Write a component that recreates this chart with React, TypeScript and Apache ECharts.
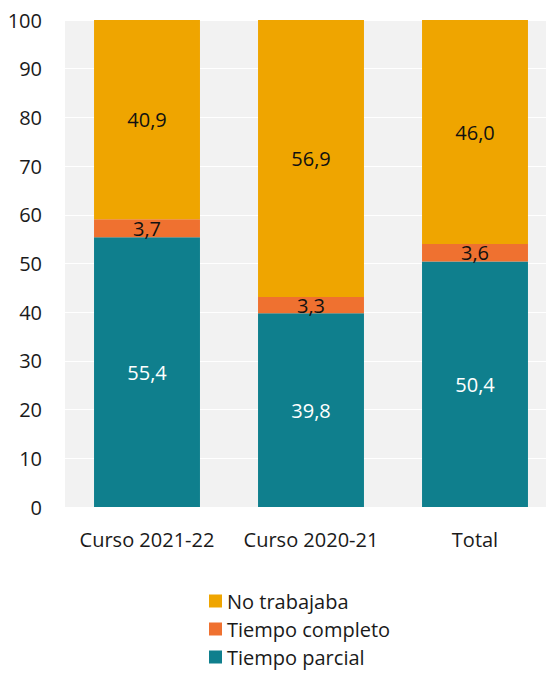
import React, { useEffect, useRef } from "react";
import * as echarts from "echarts";

const categories = ["Curso 2021-22", "Curso 2020-21", "Total"];
const tiempoParcial = [55.4, 39.8, 50.4];
const tiempoCompleto = [3.7, 3.3, 3.6];
const noTrabajaba = [40.9, 56.9, 46.0];
const legendOrder = ["No trabajaba", "Tiempo completo", "Tiempo parcial"];

const FONT = "'Open Sans', 'Noto Sans', sans-serif";
const FS = 20;
const fmt = (v: number) => v.toFixed(1).replace(".", ",");

export default function App() {
  const ref = useRef<HTMLDivElement>(null);
  useEffect(() => {
    document.body.style.margin = "0";
    const chart = echarts.init(ref.current!, null, { renderer: "svg" });
    const mk = (name: string, data: number[], color: string, labelColor: string) => ({
      name,
      type: "bar",
      stack: "t",
      data,
      barWidth: "64.6%",
      itemStyle: { color },
      label: {
        show: true,
        position: "inside",
        color: labelColor,
        fontSize: FS,
        fontFamily: FONT,
        formatter: (p: any) => fmt(p.value),
      },
    });
    chart.setOption({
      animation: false,
      textStyle: { fontFamily: FONT },
      grid: {
        left: 65,
        width: 492,
        top: 20,
        bottom: 166,
        show: true,
        backgroundColor: "#f2f2f2",
        borderWidth: 0,
        outerBoundsMode: "none",
        containLabel: false,
      },
      xAxis: {
        type: "category",
        data: categories,
        axisLine: { show: false },
        axisTick: { show: false },
        axisLabel: { color: "#1a1a1a", fontSize: FS, fontFamily: FONT, margin: 22, interval: 0 },
      },
      yAxis: {
        type: "value",
        min: 0,
        max: 100,
        interval: 10,
        axisLine: { show: false },
        axisTick: { show: false },
        splitLine: { lineStyle: { color: "#ffffff", width: 1 } },
        axisLabel: { color: "#1a1a1a", fontSize: FS, fontFamily: FONT, margin: 23 },
      },
      legend: {
        data: legendOrder,
        orient: "vertical",
        left: 209,
        top: 591,
        padding: 0,
        itemWidth: 13,
        itemHeight: 13,
        itemGap: 8,
        icon: "rect",
        textStyle: { color: "#1a1a1a", fontSize: FS, fontFamily: FONT },
      },
      series: [
        mk("Tiempo parcial", tiempoParcial, "#0F7F8D", "#ffffff"),
        mk("Tiempo completo", tiempoCompleto, "#EF7130", "#111111"),
        mk("No trabajaba", noTrabajaba, "#EFA500", "#111111"),
      ],
    });
    return () => chart.dispose();
  }, []);
  return <div ref={ref} style={{ width: 546, height: 673 }} />;
}
